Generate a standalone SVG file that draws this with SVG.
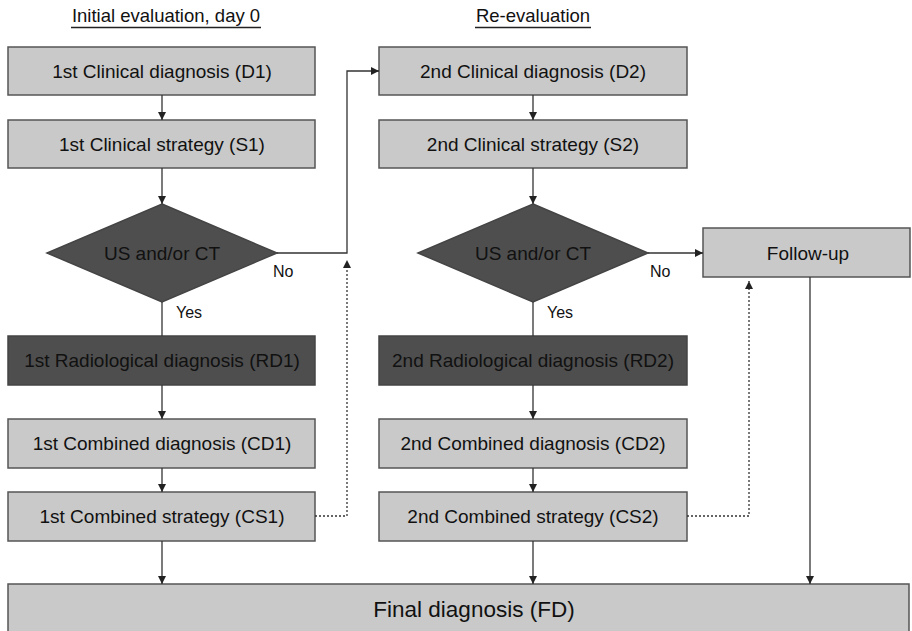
<svg xmlns="http://www.w3.org/2000/svg" width="912" height="631" viewBox="0 0 912 631">
<defs>
<marker id="ah" viewBox="0 0 10 10" refX="10" refY="5" markerWidth="8" markerHeight="8" markerUnits="userSpaceOnUse" orient="auto">
<path d="M0,0 L10,5 L0,10 z" fill="#222"/>
</marker>
</defs>
<style>
text{font-family:"Liberation Sans",Arial,sans-serif;fill:#111;}
.light{fill:#c9c9c9;stroke:#555;stroke-width:1.5;}
.dark{fill:#4e4e4e;stroke:#444;stroke-width:1.5;}
.t{font-size:19px;text-anchor:middle;}
.lbl{font-size:16px;}
.hdr{font-size:18.5px;text-anchor:middle;}
.ul{stroke:#222;stroke-width:1.3;}
.c{fill:none;stroke:#333;stroke-width:1.3;}
.d{fill:none;stroke:#333;stroke-width:1.3;stroke-dasharray:2 2;}
</style>
<g id="headers">
<text class="hdr" x="166" y="22">Initial evaluation, day 0</text>
<line class="ul" x1="71" y1="27.5" x2="261" y2="27.5"/>
<text class="hdr" x="533" y="22">Re-evaluation</text>
<line class="ul" x1="475" y1="27.5" x2="591" y2="27.5"/>
</g>
<g id="D1"><rect class="light" x="8" y="47" width="307" height="48"/><text class="t" x="162" y="78">1st Clinical diagnosis (D1)</text></g>
<g id="S1"><rect class="light" x="8" y="120" width="307" height="48"/><text class="t" x="162" y="151">1st Clinical strategy (S1)</text></g>
<g id="Q1"><polygon class="dark" points="162,204 277,253 162,302 47,253"/><text class="t" x="162" y="260">US and/or CT</text></g>
<g id="RD1"><rect class="dark" x="8" y="336" width="307" height="49"/><text class="t" x="162" y="367">1st Radiological diagnosis (RD1)</text></g>
<g id="CD1"><rect class="light" x="8" y="419" width="307" height="49"/><text class="t" x="162" y="450">1st Combined diagnosis (CD1)</text></g>
<g id="CS1"><rect class="light" x="8" y="492" width="307" height="49"/><text class="t" x="162" y="523">1st Combined strategy (CS1)</text></g>
<g id="D2"><rect class="light" x="379" y="47" width="308" height="48"/><text class="t" x="533" y="78">2nd Clinical diagnosis (D2)</text></g>
<g id="S2"><rect class="light" x="379" y="120" width="308" height="48"/><text class="t" x="533" y="151">2nd Clinical strategy (S2)</text></g>
<g id="Q2"><polygon class="dark" points="533,204 648,253 533,302 418,253"/><text class="t" x="533" y="260">US and/or CT</text></g>
<g id="RD2"><rect class="dark" x="379" y="336" width="308" height="49"/><text class="t" x="533" y="367">2nd Radiological diagnosis (RD2)</text></g>
<g id="CD2"><rect class="light" x="379" y="419" width="308" height="49"/><text class="t" x="533" y="450">2nd Combined diagnosis (CD2)</text></g>
<g id="CS2"><rect class="light" x="379" y="492" width="308" height="49"/><text class="t" x="533" y="523">2nd Combined strategy (CS2)</text></g>
<g id="FU"><rect class="light" x="703" y="228" width="207" height="49"/><text class="t" x="808" y="260">Follow-up</text></g>
<g id="FD"><rect class="light" x="8" y="584" width="901" height="50"/><text class="t" x="474" y="617" style="font-size:22.5px">Final diagnosis (FD)</text></g>
<g id="connectors">
<line class="c" x1="162" y1="95" x2="162" y2="120" marker-end="url(#ah)"/>
<line class="c" x1="162" y1="168" x2="162" y2="204" marker-end="url(#ah)"/>
<line class="c" x1="162" y1="302" x2="162" y2="336"/>
<line class="c" x1="162" y1="385" x2="162" y2="419" marker-end="url(#ah)"/>
<line class="c" x1="162" y1="468" x2="162" y2="492" marker-end="url(#ah)"/>
<line class="c" x1="162" y1="541" x2="162" y2="584" marker-end="url(#ah)"/>
<polyline class="c" points="277,253 347,253 347,71 379,71" marker-end="url(#ah)"/>
<polyline class="d" points="315,516 347,516 347,260" marker-end="url(#ah)"/>
<line class="c" x1="533" y1="95" x2="533" y2="120" marker-end="url(#ah)"/>
<line class="c" x1="533" y1="168" x2="533" y2="204" marker-end="url(#ah)"/>
<line class="c" x1="533" y1="302" x2="533" y2="336"/>
<line class="c" x1="533" y1="385" x2="533" y2="419" marker-end="url(#ah)"/>
<line class="c" x1="533" y1="468" x2="533" y2="492" marker-end="url(#ah)"/>
<line class="c" x1="533" y1="541" x2="533" y2="584" marker-end="url(#ah)"/>
<line class="c" x1="648" y1="253" x2="703" y2="253" marker-end="url(#ah)"/>
<polyline class="d" points="687,516 749,516 749,281" marker-end="url(#ah)"/>
<line class="c" x1="810" y1="277" x2="810" y2="584" marker-end="url(#ah)"/>
</g>
<g id="labels">
<text class="lbl" x="273" y="277">No</text>
<text class="lbl" x="176" y="318">Yes</text>
<text class="lbl" x="650" y="277">No</text>
<text class="lbl" x="547" y="318">Yes</text>
</g>
</svg>
